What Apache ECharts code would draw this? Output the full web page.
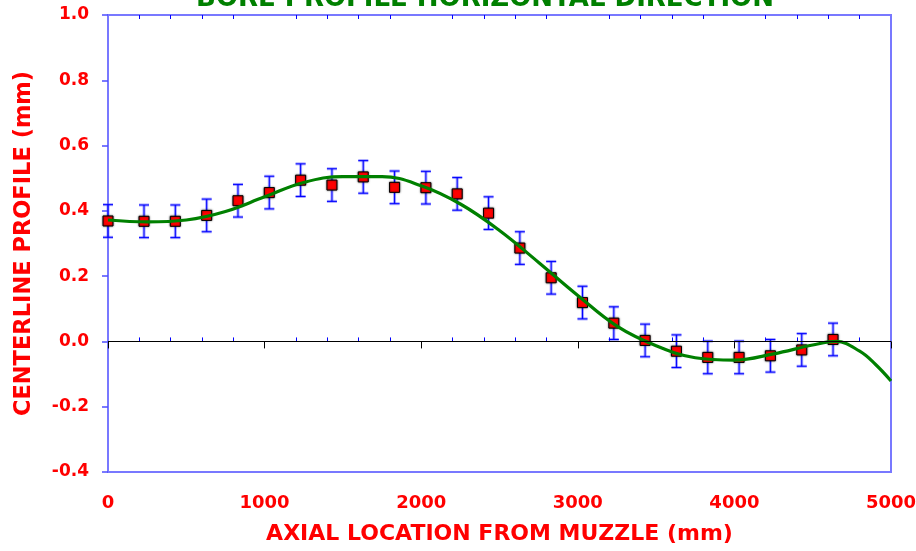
<!DOCTYPE html>
<html>
<head>
<meta charset="utf-8">
<script src="https://cdn.jsdelivr.net/npm/echarts@6/dist/echarts.min.js"></script>
<style>
html,body{margin:0;padding:0;background:#fff;}
#chart{width:916px;height:551px;}
</style>
</head>
<body>
<div id="chart"></div>
<script>
// ---- data ----
const titleText = 'BORE PROFILE HORIZONTAL DIRECTION';
const xTitle = 'AXIAL LOCATION FROM MUZZLE (mm)';
const yTitle = 'CENTERLINE PROFILE (mm)';

const pointX = [0, 230, 430, 630, 830, 1030, 1230, 1430, 1630, 1830, 2030, 2230,
                2430, 2630, 2830, 3030, 3230, 3430, 3630, 3830, 4030, 4230, 4430, 4630];
const pointY = [0.369, 0.368, 0.368, 0.386, 0.431, 0.456, 0.494, 0.479, 0.504, 0.472, 0.471, 0.452,
                0.393, 0.286, 0.195, 0.119, 0.056, 0.003, -0.030, -0.049, -0.049, -0.044, -0.026, 0.006];
const pointErr = [0.05, 0.05, 0.05, 0.05, 0.05, 0.05, 0.05, 0.05, 0.05, 0.05, 0.05, 0.05,
                  0.05, 0.05, 0.05, 0.05, 0.05, 0.05, 0.05, 0.05, 0.05, 0.05, 0.05, 0.05];

const curveX = [0, 250, 500, 750, 1000, 1250, 1500, 1750, 2000, 2250, 2500, 2750,
                3000, 3250, 3500, 3750, 4000, 4250, 4500, 4650, 4800, 4900, 5000];
const curveY = [0.372, 0.366, 0.372, 0.398, 0.443, 0.487, 0.505, 0.505, 0.477, 0.421, 0.340, 0.242,
                0.141, 0.047, -0.013, -0.050, -0.057, -0.038, -0.011, 0.000, -0.030, -0.070, -0.121];

const xMin = 0, xMax = 5000, xStep = 1000;
const yMin = -0.4, yMax = 1.0, yStep = 0.2;

// ---- build ----
const errData = pointX.map((x, i) => [x, pointY[i] - pointErr[i], pointY[i] + pointErr[i]]);
const ptData = pointX.map((x, i) => [x, pointY[i]]);
const curveData = curveX.map((x, i) => [x, curveY[i]]);

const FONT = 'DejaVu Sans';
const RED = '#ff0000';
const FRAME = '#7878ff';

const chart = echarts.init(document.getElementById('chart'), null, {renderer: 'canvas'});
chart.setOption({
  backgroundColor: '#ffffff',
  animation: false,
  title: {
    text: titleText,
    left: 480,
    top: -19,
    textAlign: 'center',
    textStyle: {color: '#008000', fontFamily: FONT, fontWeight: 'bold', fontSize: 26}
  },
  grid: {
    left: 108, right: 25, top: 15, bottom: 79,
    outerBoundsMode: 'none', containLabel: false,
    show: true, borderColor: FRAME, borderWidth: 2, backgroundColor: 'transparent'
  },
  xAxis: [
    {
      type: 'value', position: 'bottom', min: xMin, max: xMax, interval: xStep,
      axisLine: {show: false},
      axisTick: {show: true, inside: false, length: 7, lineStyle: {color: '#000', width: 1}},
      minorTick: {show: false},
      splitLine: {show: false},
      axisLabel: {color: RED, fontFamily: FONT, fontWeight: 'bold', fontSize: 18, margin: 22,
                  formatter: v => String(v)},
      name: xTitle, nameLocation: 'middle', nameGap: 51,
      nameTextStyle: {color: RED, fontFamily: FONT, fontWeight: 'bold', fontSize: 22}
    },
    {
      type: 'value', position: 'bottom', min: xMin, max: xMax, interval: xStep,
      axisLine: {show: false},
      axisTick: {show: false, inside: true},
      minorTick: {show: true, splitNumber: 5, length: 4, lineStyle: {color: '#0000ff', width: 1}},
      splitLine: {show: false},
      axisLabel: {show: false}
    },
    {
      type: 'value', position: 'top', min: xMin, max: xMax, interval: xStep,
      axisLine: {show: false},
      axisTick: {show: false, inside: true},
      minorTick: {show: true, splitNumber: 5, length: 4, lineStyle: {color: '#0000ff', width: 1}},
      splitLine: {show: false},
      axisLabel: {show: false}
    }
  ],
  yAxis: [
    {
      type: 'value', position: 'left', min: yMin, max: yMax, interval: yStep,
      axisLine: {show: false},
      axisTick: {show: true, inside: false, length: 6, lineStyle: {color: '#4d4dff', width: 1.5}},
      splitLine: {show: false},
      axisLabel: {
        color: RED, fontFamily: FONT, fontWeight: 'bold', fontSize: 17, margin: 19,
        formatter: v => v.toFixed(1)
      },
      name: yTitle, nameLocation: 'middle', nameGap: 72, nameRotate: 90,
      nameTextStyle: {color: RED, fontFamily: FONT, fontWeight: 'bold', fontSize: 22.5}
    },
    {
      type: 'value', position: 'right', min: yMin, max: yMax, interval: yStep,
      axisLine: {show: false}, axisTick: {show: false}, axisLabel: {show: false},
      splitLine: {show: false}
    }
  ],
  series: [
    {
      type: 'custom',
      name: 'error',
      xAxisIndex: 0, yAxisIndex: 0,
      z: 2,
      data: errData,
      encode: {x: 0, y: [1, 2]},
      renderItem: function (params, api) {
        const x = api.value(0);
        const top = api.coord([x, api.value(2)]);
        const bot = api.coord([x, api.value(1)]);
        const cap = 5;
        const mk = (x1, y1, x2, y2, stroke, w) => ({
          type: 'line', shape: {x1, y1, x2, y2}, style: {stroke, lineWidth: w}
        });
        const light = 'rgba(60,60,255,0.45)';
        return {
          type: 'group',
          children: [
            mk(top[0], top[1], bot[0], bot[1], light, 3),
            mk(top[0] - cap, top[1], top[0] + cap, top[1], light, 3),
            mk(bot[0] - cap, bot[1], bot[0] + cap, bot[1], light, 3),
            mk(top[0], top[1], bot[0], bot[1], '#0000ff', 1),
            mk(top[0] - cap, top[1], top[0] + cap, top[1], '#0000ff', 1),
            mk(bot[0] - cap, bot[1], bot[0] + cap, bot[1], '#0000ff', 1)
          ]
        };
      },
      markLine: {
        silent: true, symbol: ['none', 'none'], label: {show: false},
        lineStyle: {color: '#000000', width: 1.2, type: 'solid'},
        data: [{yAxis: 0}]
      }
    },
    {
      type: 'scatter',
      name: 'measured',
      xAxisIndex: 0, yAxisIndex: 0,
      z: 3,
      data: ptData,
      symbol: 'rect',
      symbolSize: 10,
      itemStyle: {
        color: '#ff0000', borderColor: '#000000', borderWidth: 1,
        shadowBlur: 2, shadowColor: 'rgba(0,0,0,0.55)', opacity: 1
      }
    },
    {
      type: 'line',
      name: 'fit',
      xAxisIndex: 0, yAxisIndex: 0,
      z: 4,
      data: curveData,
      smooth: 0.4,
      showSymbol: false,
      symbol: 'none',
      lineStyle: {color: '#008000', width: 3.2}
    }
  ]
});
</script>
</body>
</html>
